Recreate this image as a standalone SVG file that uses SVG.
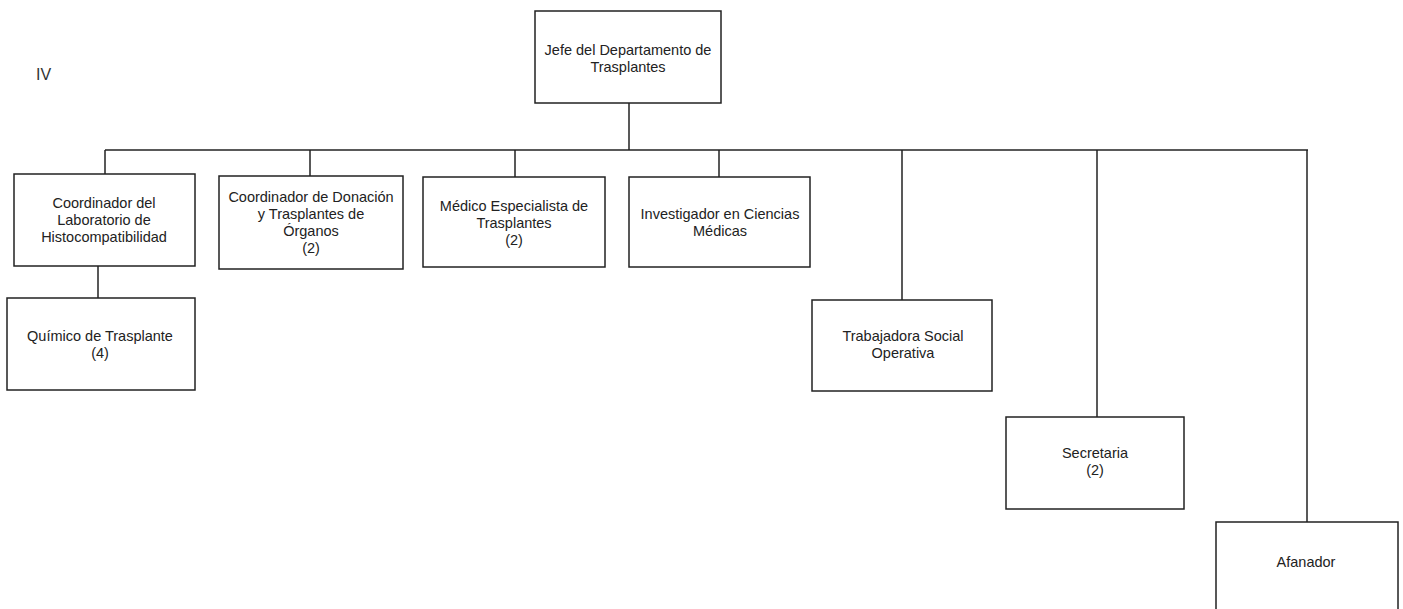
<svg xmlns="http://www.w3.org/2000/svg" width="1403" height="609" viewBox="0 0 1403 609">
<style>
.box{fill:#fff;stroke:#222;stroke-width:1.5}
.t{font-family:"Liberation Sans",Arial,sans-serif;font-size:14.5px;fill:#222;text-anchor:middle}
.c{stroke:#222;stroke-width:1.5;fill:none}
</style>
<rect width="1403" height="609" fill="#fff"/>
<text x="36" y="80" style="font-family:'Liberation Sans',Arial,sans-serif;font-size:16px;fill:#333">IV</text>
<g id="connectors">
<line class="c" x1="629" y1="103" x2="629" y2="150"/>
<line class="c" x1="105" y1="150" x2="1308" y2="150"/>
<line class="c" x1="105" y1="150" x2="105" y2="174"/>
<line class="c" x1="310" y1="150" x2="310" y2="176"/>
<line class="c" x1="515" y1="150" x2="515" y2="177"/>
<line class="c" x1="719" y1="150" x2="719" y2="177"/>
<line class="c" x1="902" y1="150" x2="902" y2="300"/>
<line class="c" x1="1097" y1="150" x2="1097" y2="417"/>
<line class="c" x1="1307" y1="150" x2="1307" y2="522"/>
<line class="c" x1="98" y1="266" x2="98" y2="298"/>
</g>
<g id="jefe"><rect class="box" x="535" y="11" width="186" height="92"/><text class="t" x="628" y="55">Jefe del Departamento de</text><text class="t" x="628" y="72">Trasplantes</text></g>
<g id="coord-lab"><rect class="box" x="14" y="174" width="181" height="92"/><text class="t" x="104" y="208">Coordinador del</text><text class="t" x="104" y="225">Laboratorio de</text><text class="t" x="104" y="242">Histocompatibilidad</text></g>
<g id="coord-don"><rect class="box" x="219" y="176" width="184" height="93"/><text class="t" x="311" y="202">Coordinador de Donación</text><text class="t" x="311" y="219">y Trasplantes de</text><text class="t" x="311" y="236">Órganos</text><text class="t" x="311" y="253">(2)</text></g>
<g id="medico"><rect class="box" x="423" y="177" width="182" height="90"/><text class="t" x="514" y="211">Médico Especialista de</text><text class="t" x="514" y="228">Trasplantes</text><text class="t" x="514" y="245">(2)</text></g>
<g id="investigador"><rect class="box" x="629" y="177" width="181" height="90"/><text class="t" x="720" y="219">Investigador en Ciencias</text><text class="t" x="720" y="236">Médicas</text></g>
<g id="quimico"><rect class="box" x="7" y="298" width="188" height="92"/><text class="t" x="100" y="341">Químico de Trasplante</text><text class="t" x="100" y="358">(4)</text></g>
<g id="trabajadora"><rect class="box" x="812" y="300" width="180" height="91"/><text class="t" x="903" y="341">Trabajadora Social</text><text class="t" x="903" y="358">Operativa</text></g>
<g id="secretaria"><rect class="box" x="1006" y="417" width="178" height="92"/><text class="t" x="1095" y="458">Secretaria</text><text class="t" x="1095" y="475">(2)</text></g>
<g id="afanador"><rect class="box" x="1216" y="522" width="182" height="95"/><text class="t" x="1306" y="567">Afanador</text></g>
</svg>
